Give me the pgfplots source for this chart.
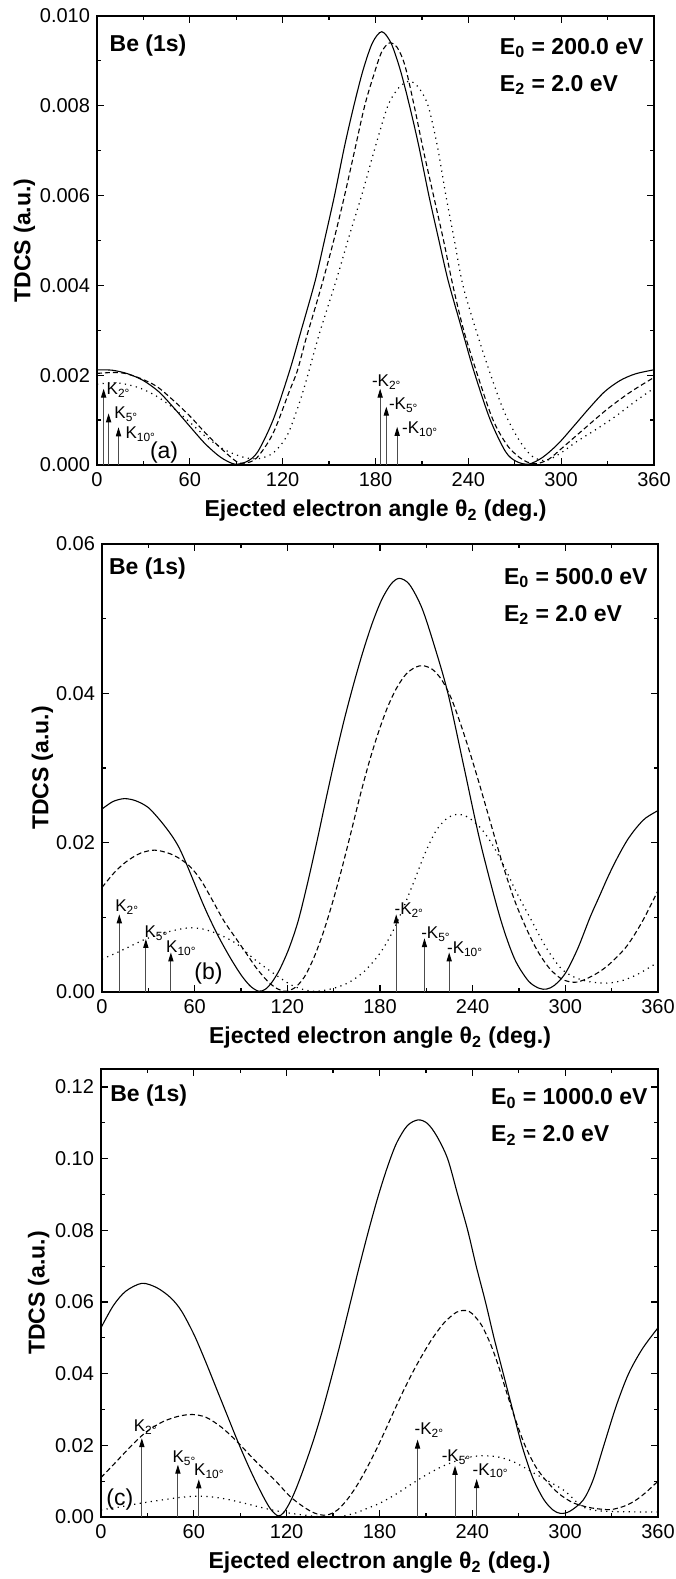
\documentclass[border=0pt]{standalone}
\usepackage{fontspec}
\setmainfont{Liberation Sans}
\usepackage{pgfplots}
\pgfplotsset{compat=1.18}
\usetikzlibrary{arrows.meta}

\pgfplotsset{
  panel/.style={
    scale only axis, width=278.5pt, height=224pt,
    xmin=0, xmax=360, ymin=0,
    xtick={0,60,...,360}, minor x tick num=1, minor y tick num=1,
    tick align=inside, major tick length=3.5pt, minor tick length=2pt,
    axis line style={line width=0.9pt},
    every tick/.style={black, line width=0.6pt},
    tick label style={font=\fontsize{10}{12}\selectfont},
    /pgf/number format/assume math mode=true,
    scaled y ticks=false,
    label style={font=\bfseries\fontsize{11.5}{13}\selectfont},
    xlabel={Ejected electron angle θ\textsubscript{2} (deg.)},
    ylabel={TDCS (a.u.)},
  },
  sol/.style={black, line width=0.55pt, smooth},
  das/.style={black, line width=0.55pt, dash pattern=on 2.5pt off 1.5pt, smooth},
  dot/.style={black, line width=0.6pt, dash pattern=on 0.6pt off 2.2pt, smooth},
  karr/.style={black!70, line width=0.5pt, -{Triangle[length=4.5pt,width=2.6pt,color=black]}},
}
\tikzset{
  klab/.style={font=\fontsize{8.5}{10}\selectfont, anchor=base west, inner sep=0pt},
  plab/.style={font=\fontsize{11.5}{13}\selectfont, anchor=base west, inner sep=0pt},
  blab/.style={font=\bfseries\fontsize{11.5}{13}\selectfont, inner sep=0pt},
}

\begin{document}
\begin{tikzpicture}
\useasboundingbox (-48.5pt,-557pt) rectangle (289pt,232.5pt);

% ---------------- (a) E0 = 200 eV
\begin{axis}[panel, at={(0pt,0pt)}, anchor=south west, height=224.5pt,
  ymax=0.010, ytick={0,0.002,...,0.010},
  ylabel style={yshift=-4.5pt},
  yticklabel style={/pgf/number format/.cd, fixed, fixed zerofill, precision=3}]
\addplot[sol] coordinates {
(0,0.00212)(10,0.00211)(20,0.00203)(30,0.00188)(40,0.00163)(50,0.00126)(60,0.00086)(70,0.00047)(80,0.00017)(89,0.00002)(97,0.00008)(104,0.0003)(114,0.00102)(124.5,0.0021)(132,0.0030)(141,0.0041)(147,0.0050)(153.5,0.0060)(160,0.0071)(166,0.0080)(172,0.0088)(178,0.0094)(184,0.00965)(190,0.0094)(196,0.0088)(202,0.0080)(208,0.0071)(214.5,0.0060)(221,0.0050)(227,0.0041)(236,0.0030)(243.5,0.0021)(254,0.00102)(264,0.0003)(271,0.00008)(279,0.00002)(288,0.00017)(298,0.00047)(308,0.00086)(318,0.00126)(328,0.00163)(338,0.00188)(348,0.00203)(360,0.00212)
};
\addplot[das] coordinates {
(0,0.00204)(10,0.00206)(18,0.00204)(28,0.00193)(38.6,0.00175)(49,0.00145)(60,0.00109)(70.7,0.00069)(81.4,0.00033)(90,0.00008)(95,0.00004)(103,0.00015)(113.6,0.00069)(124.3,0.00164)(129.5,0.0021)(135,0.0028)(141,0.0035)(146,0.0041)(153,0.0050)(160,0.0060)(166.5,0.0070)(173,0.0080)(179,0.0087)(184,0.0092)(189,0.0094)(194,0.0093)(199,0.0089)(205,0.0080)(211,0.0070)(217.5,0.0060)(224,0.0050)(230,0.0040)(237,0.0030)(246,0.0020)(256,0.0010)(266,0.0004)(276,0.0001)(284,0.00003)(292,0.00013)(300,0.00036)(314,0.00078)(330,0.00125)(345,0.00163)(360,0.00195)
};
\addplot[dot] coordinates {
(0,0.00180)(8.6,0.00183)(17,0.00181)(28,0.00171)(38.6,0.00153)(49.3,0.00127)(60,0.00095)(70.7,0.00062)(81.4,0.00036)(92,0.0002)(100,0.00014)(106,0.00015)(113.6,0.00026)(120,0.0005)(124.3,0.00076)(130,0.0013)(135,0.00185)(143.5,0.0029)(154.5,0.0041)(163,0.0051)(171,0.0060)(180,0.0071)(188,0.0080)(195,0.0084)(202,0.00855)(208,0.0084)(214,0.0080)(220,0.0071)(225.5,0.0060)(231,0.0050)(236.5,0.0040)(245,0.0030)(254.5,0.0020)(263,0.0012)(272,0.0006)(281,0.0002)(290,0.0001)(299,0.00025)(310,0.00052)(322,0.00078)(335,0.00108)(348,0.00142)(360,0.00171)
};
\addplot[karr] coordinates {(4.3,0)(4.3,0.0017)};
\addplot[karr] coordinates {(7.5,0)(7.5,0.00115)};
\addplot[karr] coordinates {(13.9,0)(13.9,0.00084)};
\addplot[karr] coordinates {(183,0)(183,0.0017)};
\addplot[karr] coordinates {(187,0)(187,0.0013)};
\addplot[karr] coordinates {(194,0)(194,0.00085)};
\node[klab] at (axis cs:6,0.00156) {K\textsubscript{2°}};
\node[klab] at (axis cs:11,0.00104) {K\textsubscript{5°}};
\node[klab] at (axis cs:18.2,0.00058) {K\textsubscript{10°}};
\node[klab] at (axis cs:177.5,0.00174) {-K\textsubscript{2°}};
\node[klab] at (axis cs:188.5,0.00124) {-K\textsubscript{5°}};
\node[klab] at (axis cs:197,0.0007) {-K\textsubscript{10°}};
\node[plab] at (axis cs:34,0.00015) {(a)};
\node[blab, anchor=base west] at (rel axis cs:0.022,0.921) {Be (1s)};
\node[blab, anchor=base east] (e0) at (rel axis cs:0.982,0.915) {E\textsubscript{0} = 200.0 eV};
\node[blab, anchor=base west, yshift=-18.5pt] at (e0.base west) {E\textsubscript{2} = 2.0 eV};
\end{axis}

% ---------------- (b) E0 = 500 eV
\begin{axis}[panel, at={(2.5pt,-263.5pt)}, anchor=south west, width=278pt,
  ymax=0.06, ytick={0,0.02,0.04,0.06},
  ylabel style={yshift=-5.5pt},
  yticklabel style={/pgf/number format/.cd, fixed, fixed zerofill, precision=2}]
\addplot[sol] coordinates {
(0,0.0245)(7,0.0255)(14.5,0.0259)(22,0.0256)(30,0.0247)(38,0.0229)(45,0.0210)(50,0.0193)(55,0.0170)(60,0.0145)(65,0.0120)(70,0.0097)(76,0.0072)(83,0.0046)(90,0.0023)(96,0.0008)(101.5,0.0001)(106,0.0004)(110,0.0013)(115,0.0030)(121,0.0058)(127,0.0095)(133,0.0145)(139,0.0200)(145,0.0258)(151,0.0314)(157,0.0366)(163,0.0413)(169,0.0456)(175,0.0494)(181,0.0525)(187,0.0546)(192.4,0.0554)(199,0.0546)(207,0.0515)(215,0.0465)(224,0.0400)(234.5,0.0300)(245,0.0200)(257.7,0.0100)(267,0.0045)(276,0.0015)(283,0.0005)(288,0.0004)(293,0.0009)(300,0.0025)(308,0.0058)(316,0.0100)(322,0.0128)(328,0.0156)(334,0.0181)(340,0.0203)(346,0.0220)(352,0.0233)(360,0.0243)
};
\addplot[das] coordinates {
(0,0.0140)(8,0.0160)(16,0.0175)(25,0.0186)(34,0.0190)(43,0.0186)(50,0.0179)(57,0.0168)(64,0.0150)(72,0.0121)(79,0.0095)(87,0.0071)(94,0.0050)(100,0.0032)(107,0.0015)(113,0.0005)(119,0.0001)(125,0.0006)(131,0.0020)(137,0.0045)(143,0.0078)(149,0.0118)(155,0.0163)(161,0.0212)(167,0.0262)(173,0.0308)(179,0.0348)(185,0.0382)(191,0.0408)(197,0.0426)(203,0.0435)(208,0.0437)(214,0.0432)(220,0.0418)(226,0.0394)(232,0.0360)(238,0.0322)(244,0.0281)(250,0.0238)(256,0.0195)(262,0.0154)(268,0.0118)(275,0.0084)(282,0.0055)(290,0.0031)(298,0.0017)(306,0.0013)(313,0.0017)(322,0.0027)(330,0.0040)(340,0.0062)(350,0.0095)(360,0.0136)
};
\addplot[dot] coordinates {
(0,0.0044)(10,0.0053)(20,0.0063)(28.4,0.0071)(40,0.0079)(50,0.0084)(57.5,0.0086)(66,0.0084)(76,0.0077)(87.6,0.0064)(98,0.0045)(109,0.0028)(122,0.0010)(131,0.0003)(139,0.0001)(150,0.0005)(160,0.0013)(170,0.0028)(180,0.0052)(188,0.0080)(195,0.0112)(202,0.0148)(209,0.0185)(216,0.0215)(223,0.0232)(230,0.0238)(237,0.0234)(245,0.0220)(252,0.0200)(260,0.0170)(268,0.0135)(277,0.0100)(288,0.0058)(298,0.0030)(308,0.0018)(318,0.0013)(328,0.0012)(338,0.0016)(348,0.0025)(360,0.0040)
};
\addplot[karr] coordinates {(11.2,0)(11.2,0.0104)};
\addplot[karr] coordinates {(28.4,0)(28.4,0.0071)};
\addplot[karr] coordinates {(44.6,0)(44.6,0.0053)};
\addplot[karr] coordinates {(190.5,0)(190.5,0.0104)};
\addplot[karr] coordinates {(208.8,0)(208.8,0.0072)};
\addplot[karr] coordinates {(224.8,0)(224.8,0.0053)};
\node[klab] at (axis cs:8.4,0.0108) {K\textsubscript{2°}};
\node[klab] at (axis cs:27.3,0.0073) {K\textsubscript{5°}};
\node[klab] at (axis cs:41.3,0.0053) {K\textsubscript{10°}};
\node[klab] at (axis cs:189.2,0.0104) {-K\textsubscript{2°}};
\node[klab] at (axis cs:206.5,0.0071) {-K\textsubscript{5°}};
\node[klab] at (axis cs:223.2,0.0051) {-K\textsubscript{10°}};
\node[plab] at (axis cs:59.6,0.0017) {(b)};
\node[blab, anchor=base west] at (rel axis cs:0.012,0.932) {Be (1s)};
\node[blab, anchor=base east] (e0) at (rel axis cs:0.982,0.91) {E\textsubscript{0} = 500.0 eV};
\node[blab, anchor=base west, yshift=-18.5pt] at (e0.base west) {E\textsubscript{2} = 2.0 eV};
\end{axis}

% ---------------- (c) E0 = 1000 eV
\begin{axis}[panel, at={(2pt,-526pt)}, anchor=south west,
  ymax=0.125, ytick={0,0.02,...,0.12},
  ylabel style={yshift=-4pt},
  yticklabel style={/pgf/number format/.cd, fixed, fixed zerofill, precision=2}]
\addplot[sol] coordinates {
(0,0.0528)(8,0.0590)(16,0.0630)(26.4,0.0652)(36,0.0640)(45,0.0612)(52,0.0575)(60,0.0510)(67,0.0440)(74,0.0365)(81,0.0290)(88,0.0215)(95,0.0145)(101,0.0090)(106,0.0048)(110,0.0020)(114.5,0.0003)(118,0.0012)(122,0.0040)(126,0.0078)(131,0.0135)(137,0.0210)(143,0.0295)(149,0.0390)(155,0.0490)(161,0.0595)(167,0.0700)(173,0.0800)(179,0.0893)(185,0.0975)(191,0.1043)(198,0.1092)(205,0.1108)(211,0.1098)(217,0.1063)(224,0.1000)(230.5,0.0900)(237,0.0800)(242.5,0.0700)(248.5,0.0600)(254,0.0500)(260,0.0400)(266,0.0300)(272,0.0200)(279,0.0110)(286,0.0050)(292,0.0020)(297,0.0010)(303,0.0016)(311.6,0.0047)(318,0.0103)(325,0.0200)(333,0.0310)(341,0.0400)(350,0.0470)(360,0.0528)
};
\addplot[das] coordinates {
(0,0.0110)(10,0.0155)(21,0.0205)(30,0.0240)(40,0.0266)(50,0.0281)(59,0.0286)(68,0.0278)(78,0.0250)(88,0.0210)(99,0.0160)(113,0.0100)(122,0.0058)(131,0.0028)(138,0.0011)(144,0.0005)(148,0.0008)(153,0.0020)(159,0.0048)(165,0.0085)(171,0.0130)(177,0.0180)(183,0.0235)(189,0.0292)(195,0.0348)(201,0.0400)(207,0.0447)(214,0.0497)(222,0.0543)(230,0.0572)(236,0.0576)(240,0.0567)(246,0.0535)(252,0.0480)(257,0.0420)(262,0.0350)(268,0.0270)(274,0.0200)(281,0.0140)(288,0.0100)(296,0.0065)(305,0.0040)(315,0.0027)(323,0.0022)(330,0.0021)(338,0.0030)(345,0.0045)(352,0.0068)(360,0.0100)
};
\addplot[dot] coordinates {
(0,0.0020)(12,0.0028)(25,0.0038)(40,0.0048)(52,0.0055)(62,0.0058)(72,0.0056)(82,0.0049)(95,0.0036)(108,0.0022)(120,0.0012)(132,0.0005)(141,0.0001)(148,0.0000)(156,0.0002)(165,0.0012)(172,0.0024)(180,0.0038)(190,0.0062)(200,0.0090)(210,0.0117)(220,0.0140)(228,0.0154)(237,0.0166)(246,0.0171)(256,0.0168)(265,0.0157)(272,0.0142)(280,0.0122)(290,0.0098)(299,0.0075)(305,0.0052)(310,0.0032)(318,0.0019)(333,0.0015)(360,0.0014)
};
\addplot[karr] coordinates {(26.4,0)(26.4,0.022)};
\addplot[karr] coordinates {(49.7,0)(49.7,0.0146)};
\addplot[karr] coordinates {(63.2,0)(63.2,0.0105)};
\addplot[karr] coordinates {(204.6,0)(204.6,0.0216)};
\addplot[karr] coordinates {(228.8,0)(228.8,0.0143)};
\addplot[karr] coordinates {(242.8,0)(242.8,0.0106)};
\node[klab] at (axis cs:21,0.0239) {K\textsubscript{2°}};
\node[klab] at (axis cs:46,0.0152) {K\textsubscript{5°}};
\node[klab] at (axis cs:60,0.0115) {K\textsubscript{10°}};
\node[klab] at (axis cs:202.5,0.023) {-K\textsubscript{2°}};
\node[klab] at (axis cs:220,0.0155) {-K\textsubscript{5°}};
\node[klab] at (axis cs:240,0.0117) {-K\textsubscript{10°}};
\node[plab] at (axis cs:3.2,0.0033) {(c)};
\node[blab, anchor=base west] at (rel axis cs:0.016,0.927) {Be (1s)};
\node[blab, anchor=base east] (e0) at (rel axis cs:0.982,0.92) {E\textsubscript{0} = 1000.0 eV};
\node[blab, anchor=base west, yshift=-18.5pt] at (e0.base west) {E\textsubscript{2} = 2.0 eV};
\end{axis}
\end{tikzpicture}
\end{document}
